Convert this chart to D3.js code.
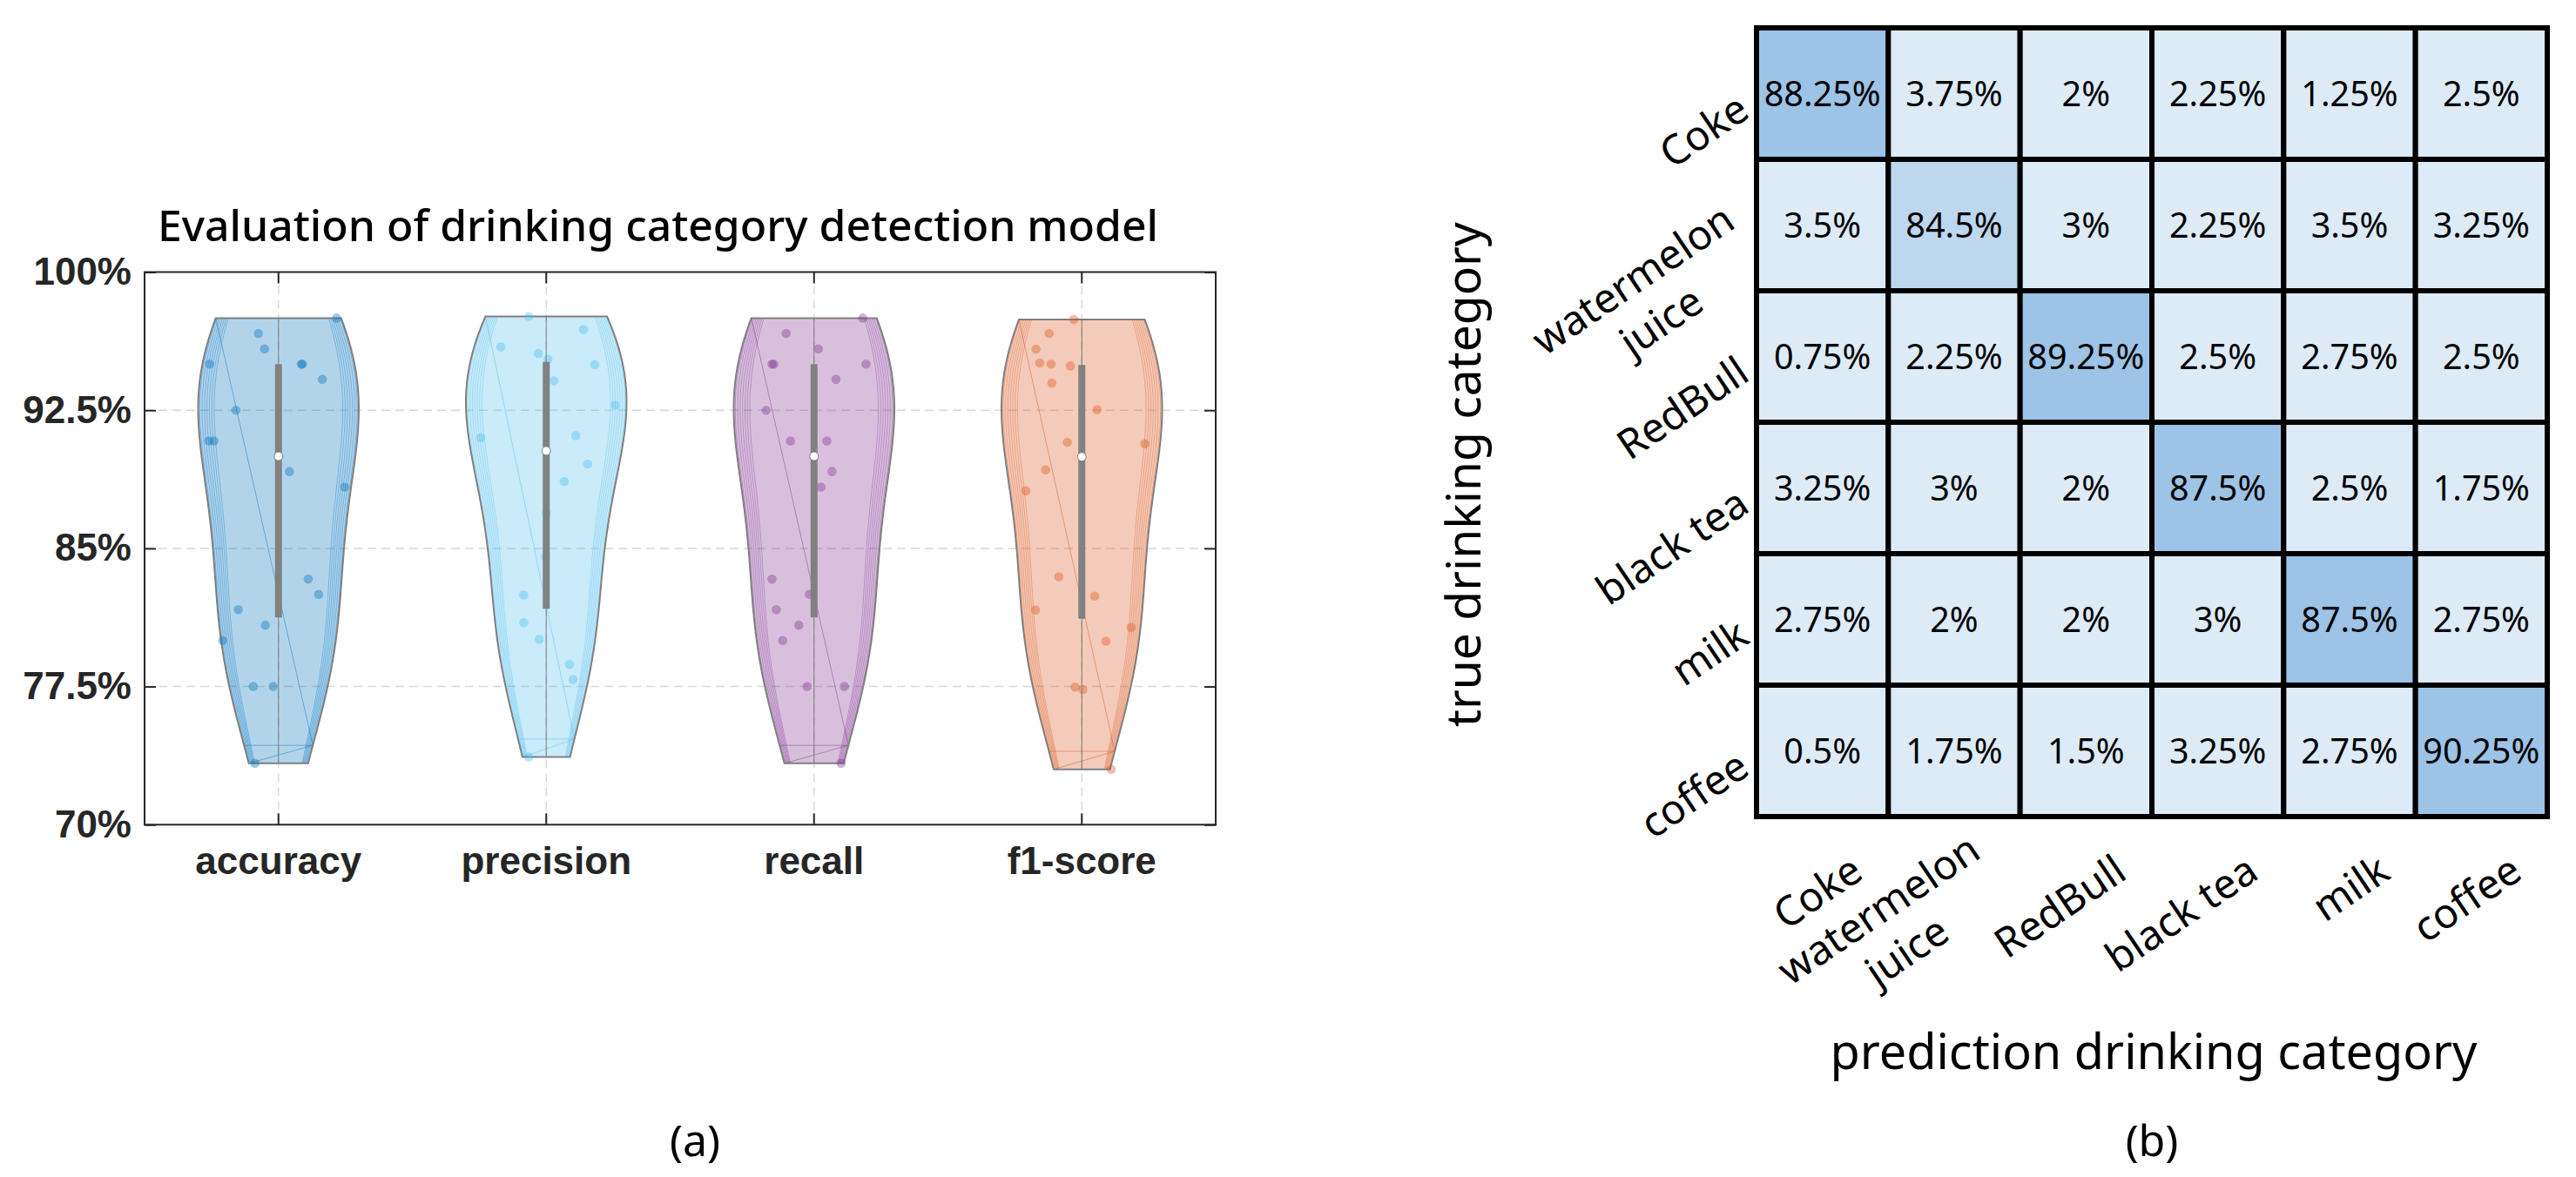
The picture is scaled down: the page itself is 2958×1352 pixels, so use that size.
<!DOCTYPE html>
<html>
<head>
<meta charset="utf-8">
<script src="https://cdn.jsdelivr.net/npm/d3@7"></script>
<style>
  body { margin: 0; background: #fff; }
  svg { display: block; }
</style>
</head>
<body>
<div id="chart"></div>
<script>
// Violin plot of model metrics (a) and confusion matrix of drink categories (b)

const WIDTH = 2958
const HEIGHT = 1352

// ---- data: panel (a) ----
const metrics = ["accuracy", "precision", "recall", "f1-score"]
const metricColors = ["#0072BD", "#4DBEEE", "#7E2F8E", "#D95319"]
const yTicks = [70, 77.5, 85, 92.5, 100]

const accuracyValues = [97.5, 96.67, 95.83, 95, 95, 95, 94.17, 92.5, 90.83, 90.83,
  89.17, 88.33, 83.33, 82.5, 81.67, 80.83, 80, 77.5, 77.5, 73.33]
const accuracyJitter = [0.217, -0.075, -0.052, -0.257, 0.085, 0.09, 0.164, -0.159, -0.26, -0.241,
  0.041, 0.247, 0.111, 0.15, -0.15, -0.049, -0.208, -0.094, -0.02, -0.088]

const precisionValues = [97.59, 96.88, 95.93, 95.58, 95.26, 94.98, 94.1, 92.78, 91.12, 91.01,
  89.58, 88.63, 86.9, 84.54, 82.47, 80.97, 80.07, 78.7, 77.88, 73.68]
const precisionJitter = [-0.065, 0.139, -0.169, -0.029, 0.006, 0.181, 0.029, 0.257, 0.11, -0.245,
  0.155, 0.067, 0.0, -0.003, -0.084, -0.084, -0.026, 0.087, 0.1, -0.065]

const recallValues = [97.5, 96.67, 95.83, 95, 95, 95, 94.17, 92.5, 90.83, 90.83,
  89.17, 88.33, 83.33, 82.5, 81.67, 80.83, 80, 77.5, 77.5, 73.33]
const recallJitter = [0.182, -0.104, 0.016, -0.157, -0.15, 0.194, 0.082, -0.179, -0.088, 0.048,
  0.067, 0.026, -0.157, -0.018, -0.141, -0.057, -0.117, -0.026, 0.113, 0.101]

const f1Values = [97.42, 96.67, 95.82, 95.06, 95.0, 94.9, 93.97, 92.53, 90.76, 90.68,
  89.26, 88.12, 83.46, 82.41, 81.65, 80.7, 79.96, 77.47, 77.34, 73.0]
const f1Jitter = [-0.03, -0.122, -0.171, -0.157, -0.115, -0.043, -0.112, 0.057, -0.054, 0.235,
  -0.135, -0.209, -0.086, 0.048, -0.173, 0.184, 0.09, -0.025, 0.004, 0.11]

// ---- data: panel (b) ----
const drinks = ["Coke", "watermelon\njuice", "RedBull", "black tea", "milk", "coffee"]
const cokeRow = [88.25, 3.75, 2, 2.25, 1.25, 2.5]
const watermelonRow = [3.5, 84.5, 3, 2.25, 3.5, 3.25]
const redbullRow = [0.75, 2.25, 89.25, 2.5, 2.75, 2.5]
const blackTeaRow = [3.25, 3, 2, 87.5, 2.5, 1.75]
const milkRow = [2.75, 2, 2, 3, 87.5, 2.75]
const coffeeRow = [0.5, 1.75, 1.5, 3.25, 2.75, 90.25]

const confusion = [cokeRow, watermelonRow, redbullRow, blackTeaRow, milkRow, coffeeRow]
const series = [
  { name: metrics[0], values: accuracyValues, jitter: accuracyJitter, color: metricColors[0] },
  { name: metrics[1], values: precisionValues, jitter: precisionJitter, color: metricColors[1] },
  { name: metrics[2], values: recallValues, jitter: recallJitter, color: metricColors[2] },
  { name: metrics[3], values: f1Values, jitter: f1Jitter, color: metricColors[3] }
]

const SANS = "'Noto Sans', 'Open Sans', 'DejaVu Sans', sans-serif"
const ARIAL = "'Liberation Sans', Arial, sans-serif"
const GRAY = "#808080"
const AXIS = "#262626"

const svg = d3.select("#chart")
  .append("svg")
  .attr("xmlns", "http://www.w3.org/2000/svg")
  .attr("width", WIDTH)
  .attr("height", HEIGHT)

svg.append("rect").attr("width", WIDTH).attr("height", HEIGHT).attr("fill", "#fff")

// shrink / grow a text so it spans the width measured on the reference
function fitWidth(sel, target) {
  const w = sel.node().getComputedTextLength()
  const fs = parseFloat(sel.attr("font-size"))
  sel.attr("font-size", fs * target / w)
  return fs * target / w
}

// ksdensity default bandwidth (MATLAB)
function matlabBandwidth(vals) {
  const med = d3.median(vals)
  const mad = d3.median(vals, v => Math.abs(v - med))
  return (mad / 0.6745) * Math.pow(4 / (3 * vals.length), 0.2)
}

// prctile as in MATLAB
function prctile(sorted, p) {
  const n = sorted.length
  const pos = n * p + 0.5
  if (pos <= 1) return sorted[0]
  if (pos >= n) return sorted[n - 1]
  const lo = Math.floor(pos)
  const f = pos - lo
  return sorted[lo - 1] + f * (sorted[lo] - sorted[lo - 1])
}

// =============== PANEL (a) ===============
const PLOT = { left: 166, right: 1396, top: 312.5, bottom: 947.3 }

const x = d3.scaleBand().domain(metrics).range([PLOT.left, PLOT.right])
const y = d3.scaleLinear().domain([70, 100]).range([PLOT.bottom, PLOT.top])

const panelA = svg.append("g")

// grid
panelA.append("g")
  .selectAll("line")
  .data(yTicks.slice(1, -1))
  .join("line")
  .attr("x1", PLOT.left).attr("x2", PLOT.right)
  .attr("y1", d => y(d)).attr("y2", d => y(d))
  .attr("stroke", "#d9d9d9").attr("stroke-width", 1.5)
  .attr("stroke-dasharray", "10,6")

panelA.append("g")
  .selectAll("line")
  .data(metrics)
  .join("line")
  .attr("x1", d => x(d) + x.bandwidth() / 2).attr("x2", d => x(d) + x.bandwidth() / 2)
  .attr("y1", PLOT.top).attr("y2", PLOT.bottom)
  .attr("stroke", "#d9d9d9").attr("stroke-width", 1.5)
  .attr("stroke-dasharray", "10,6")

// violins
series.forEach(s => {
  const cx = x(s.name) + x.bandwidth() / 2
  const sorted = s.values.slice().sort(d3.ascending)
  const vmin = sorted[0]
  const vmax = sorted[sorted.length - 1]
  const bw = matlabBandwidth(sorted)
  const grid = d3.range(100).map(i => vmin + (vmax - vmin) * i / 99)
  const dens = grid.map(t => d3.mean(sorted, v => Math.exp(-0.5 * ((t - v) / bw) ** 2)))
  const dmax = d3.max(dens)
  const halfW = 0.3 * x.bandwidth()
  const pts = grid.map((v, i) => ({ v, w: dens[i] / dmax * halfW }))

  const g = panelA.append("g")

  const area = d3.area()
    .y(d => y(d.v))
    .x0(d => cx - d.w)
    .x1(d => cx + d.w)

  g.append("path")
    .attr("d", area(pts))
    .attr("fill", s.color)
    .attr("fill-opacity", 0.3)

  // thin edge lines like the rendered patch edges
  const edge = d3.line().x(d => d[0]).y(d => d[1])
  ;[0.8, 0.83, 0.86, 0.89, 0.92, 0.95, 0.98].forEach(k => {
    g.append("path")
      .attr("d", edge(pts.map(p => [cx - p.w * k, y(p.v)])))
      .attr("fill", "none").attr("stroke", s.color)
      .attr("stroke-opacity", 0.35).attr("stroke-width", 1)
    g.append("path")
      .attr("d", edge(pts.map(p => [cx + p.w * k, y(p.v)])))
      .attr("fill", "none").attr("stroke", s.color)
      .attr("stroke-opacity", 0.35).attr("stroke-width", 1)
  })
  const top = pts[pts.length - 1]
  const low = pts[4]
  const bot = pts[0]
  g.append("path")
    .attr("d", edge([[cx - top.w, y(top.v)], [cx + low.w, y(low.v)]]))
    .attr("fill", "none").attr("stroke", s.color).attr("stroke-opacity", 0.45).attr("stroke-width", 1)
  g.append("path")
    .attr("d", edge([[cx - low.w, y(low.v)], [cx + low.w, y(low.v)], [cx - bot.w, y(bot.v)]]))
    .attr("fill", "none").attr("stroke", s.color).attr("stroke-opacity", 0.45).attr("stroke-width", 1)

  g.append("path")
    .attr("d", area(pts))
    .attr("fill", "none")
    .attr("stroke", GRAY)
    .attr("stroke-width", 2)

  // scatter
  g.append("g")
    .selectAll("circle")
    .data(s.values)
    .join("circle")
    .attr("cx", (d, i) => cx + s.jitter[i] * x.bandwidth())
    .attr("cy", d => y(d))
    .attr("r", 5.3)
    .attr("fill", s.color)
    .attr("fill-opacity", 0.38)

  // whisker, box, median
  g.append("line")
    .attr("x1", cx).attr("x2", cx)
    .attr("y1", y(vmax)).attr("y2", y(vmin))
    .attr("stroke", GRAY).attr("stroke-width", 1)

  g.append("line")
    .attr("x1", cx).attr("x2", cx)
    .attr("y1", y(prctile(sorted, 0.75))).attr("y2", y(prctile(sorted, 0.25)))
    .attr("stroke", GRAY).attr("stroke-width", 8)

  g.append("circle")
    .attr("cx", cx).attr("cy", y(prctile(sorted, 0.5)))
    .attr("r", 5)
    .attr("fill", "#fff")
    .attr("stroke", GRAY).attr("stroke-width", 1)
})

// axes
const yAxisL = d3.axisLeft(y).tickValues(yTicks).tickSize(-13).tickPadding(15)
  .tickFormat(d => d + "%")
const yAxisR = d3.axisRight(y).tickValues(yTicks).tickSize(-13).tickFormat("")
const xAxisB = d3.axisBottom(x).tickSize(-13).tickPadding(25.5)
const xAxisT = d3.axisTop(x).tickSize(-13).tickFormat("")

function styleAxis(g) {
  g.select(".domain").remove()
  g.selectAll(".tick line").attr("stroke", AXIS).attr("stroke-width", 2)
  g.selectAll(".tick text")
    .attr("fill", AXIS)
    .attr("font-family", ARIAL)
    .attr("font-weight", "bold")
    .attr("font-size", 44)
}

panelA.append("g").attr("transform", `translate(${PLOT.left},0)`).call(yAxisL).call(styleAxis)
panelA.append("g").attr("transform", `translate(${PLOT.right},0)`).call(yAxisR).call(styleAxis)
panelA.append("g").attr("transform", `translate(0,${PLOT.bottom})`).call(xAxisB).call(styleAxis)
panelA.append("g").attr("transform", `translate(0,${PLOT.top})`).call(xAxisT).call(styleAxis)

panelA.append("rect")
  .attr("x", PLOT.left).attr("y", PLOT.top)
  .attr("width", PLOT.right - PLOT.left).attr("height", PLOT.bottom - PLOT.top)
  .attr("fill", "none").attr("stroke", AXIS).attr("stroke-width", 2)

const titleA = panelA.append("text")
  .attr("x", 755.5).attr("y", 277)
  .attr("text-anchor", "middle")
  .attr("font-family", SANS)
  .attr("font-size", 46)
  .attr("font-weight", 500)
  .attr("fill", "#000")
  .text("Evaluation of drinking category detection model")
fitWidth(titleA, 1149)

svg.append("text")
  .attr("x", 798).attr("y", 1328)
  .attr("text-anchor", "middle")
  .attr("font-family", SANS).attr("font-size", 50)
  .text("(a)")

// =============== PANEL (b) ===============
const M = { left: 2017, right: 2925, top: 32, bottom: 938 }
const colScale = d3.scaleBand().domain(d3.range(drinks.length)).range([M.left, M.right])
const rowScale = d3.scaleBand().domain(d3.range(drinks.length)).range([M.top, M.bottom])
const cellColor = d3.scaleThreshold()
  .domain([50, 86])
  .range(["#DDEBF7", "#BDD7EE", "#9DC3E6"])

const cells = confusion.flatMap((row, r) => row.map((v, c) => ({ r, c, v })))

const panelB = svg.append("g")

panelB.append("g")
  .selectAll("rect")
  .data(cells)
  .join("rect")
  .attr("x", d => colScale(d.c))
  .attr("y", d => rowScale(d.r))
  .attr("width", colScale.bandwidth())
  .attr("height", rowScale.bandwidth())
  .attr("fill", d => cellColor(d.v))
  .attr("stroke", "#000")
  .attr("stroke-width", 6)

const cellText = panelB.append("g")
  .selectAll("text")
  .data(cells)
  .join("text")
  .attr("x", d => colScale(d.c) + colScale.bandwidth() / 2)
  .attr("y", d => rowScale(d.r) + rowScale.bandwidth() / 2)
  .attr("dy", "0.36em")
  .attr("text-anchor", "middle")
  .attr("font-family", SANS)
  .attr("font-size", 38)
  .attr("fill", "#000")
  .text(d => d.v + "%")
const cellFs = fitWidth(cellText.filter(d => d.r === 0 && d.c === 0), 134)
cellText.attr("font-size", cellFs)

// measure label font size from "watermelon"
const probe = svg.append("text").attr("font-family", SANS).attr("font-size", 46).text("watermelon")
const labelFs = fitWidth(probe, 267)
probe.remove()
const LINE_H = 58
const ANGLE = -34

function drawLabel(g, label) {
  const lines = label.split("\n")
  const t = g.append("text")
    .attr("font-family", SANS).attr("font-size", labelFs).attr("fill", "#000")
  const widths = lines.map(l => {
    t.text(l)
    return t.node().getComputedTextLength()
  })
  t.remove()
  const W = d3.max(widths)
  lines.forEach((l, i) => {
    g.append("text")
      .attr("x", -W / 2)
      .attr("y", (i - (lines.length - 1) / 2) * LINE_H)
      .attr("dy", "0.35em")
      .attr("text-anchor", "middle")
      .attr("font-family", SANS).attr("font-size", labelFs).attr("fill", "#000")
      .text(l)
  })
}

// row (true) labels
drinks.forEach((d, i) => {
  const g = panelB.append("g")
    .attr("transform", `translate(${M.left - 15},${rowScale(i) + rowScale.bandwidth() / 2 + 12}) rotate(${ANGLE})`)
  drawLabel(g, d)
})

// column (prediction) labels
drinks.forEach((d, i) => {
  const g = panelB.append("g")
    .attr("transform", `translate(${colScale(i) + colScale.bandwidth() / 2 + 40},${M.bottom + 56}) rotate(${ANGLE})`)
  drawLabel(g, d)
})

const xTitle = panelB.append("text")
  .attr("x", 2473).attr("y", 1228)
  .attr("text-anchor", "middle")
  .attr("font-family", SANS).attr("font-size", 50)
  .text("prediction drinking category")
fitWidth(xTitle, 743)

const yTitle = panelB.append("text")
  .attr("transform", "translate(1700,545) rotate(-90)")
  .attr("text-anchor", "middle")
  .attr("font-family", SANS).attr("font-size", 50)
  .text("true drinking category")
fitWidth(yTitle, 580)

svg.append("text")
  .attr("x", 2471).attr("y", 1328)
  .attr("text-anchor", "middle")
  .attr("font-family", SANS).attr("font-size", 50)
  .text("(b)")
</script>
</body>
</html>
